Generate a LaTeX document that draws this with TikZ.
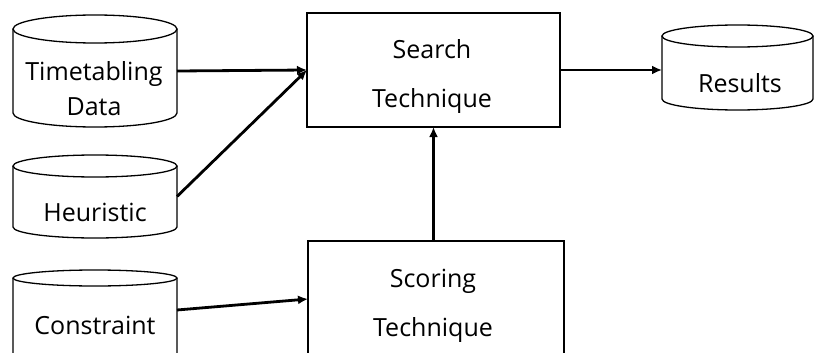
\documentclass[tikz,border=0pt]{standalone}
\usepackage{fontspec}
\setmainfont{Open Sans}
\usetikzlibrary{arrows.meta,calc}
\tikzset{
  area/.style={draw=none,inner sep=0pt,outer sep=0pt},
  procbox/.style={draw,line width=1.8pt,inner sep=0pt,outer sep=0pt},
  boxtext/.style={inner sep=0pt,align=center,font=\fontsize{25}{49}\selectfont},
  cyltext/.style={inner sep=0pt,align=center,font=\fontsize{25}{35}\selectfont},
  cylline/.style={line width=1.3pt},
  arr/.style={line width=2.8pt,-{Latex[length=10pt,width=9pt]}},
}
% #1 name, #2 L, #3 T, #4 R, #5 B, #6 ry
\newcommand\dbcyl[6]{%
  \node[area,minimum width={#4-#2},minimum height={#5-#3}] (#1) at ({(#2+#4)/2},{(#3+#5)/2}) {};
  \draw[cylline] ({(#2+#4)/2},{#3+#6}) ellipse [x radius={(#4-#2)/2}, y radius=#6];
  \draw[cylline] (#2,{#3+#6}) -- (#2,{#5-#6})
     arc[start angle=180,end angle=0,x radius={(#4-#2)/2},y radius=#6] -- (#4,{#3+#6});
}
\begin{document}
\begin{tikzpicture}[x=1pt,y=-1pt]
\useasboundingbox (0,0) rectangle (819,353);
\fill[white] (0,0) rectangle (819,353);

\dbcyl{td}{13}{15}{177}{127}{14}
\node[cyltext] (tdt) at (94,89) {Timetabling\\Data};

\dbcyl{he}{13}{155}{177}{238}{11}
\node[cyltext] (het) at (95,212) {Heuristic};

\dbcyl{cn}{13}{270}{177}{366}{8}
\node[cyltext] (cnt) at (95,325) {Constraint};

\dbcyl{rs}{662}{25}{813}{110}{11}
\node[cyltext] (rst) at (740,83) {Results};

\node[procbox,minimum width=253pt,minimum height=114pt] (se) at (433.5,70) {};
\node[boxtext] (set) at (432,76.5) {Search\\Technique};
\node[procbox,minimum width=256pt,minimum height=116pt] (sc) at (436,299) {};
\node[boxtext] (sct) at (433,305.5) {Scoring\\Technique};

\draw[arr] (td.east) -- (se.west);
\draw[arr] (he.east) -- (se.west);
\draw[arr] ([yshift=8pt]cn.east) -- (sc.west);
\draw[arr] (se.east) -- (se.east -| rs.west);
\draw[arr] (se.south |- sc.north) -- (se.south);
\end{tikzpicture}
\end{document}
